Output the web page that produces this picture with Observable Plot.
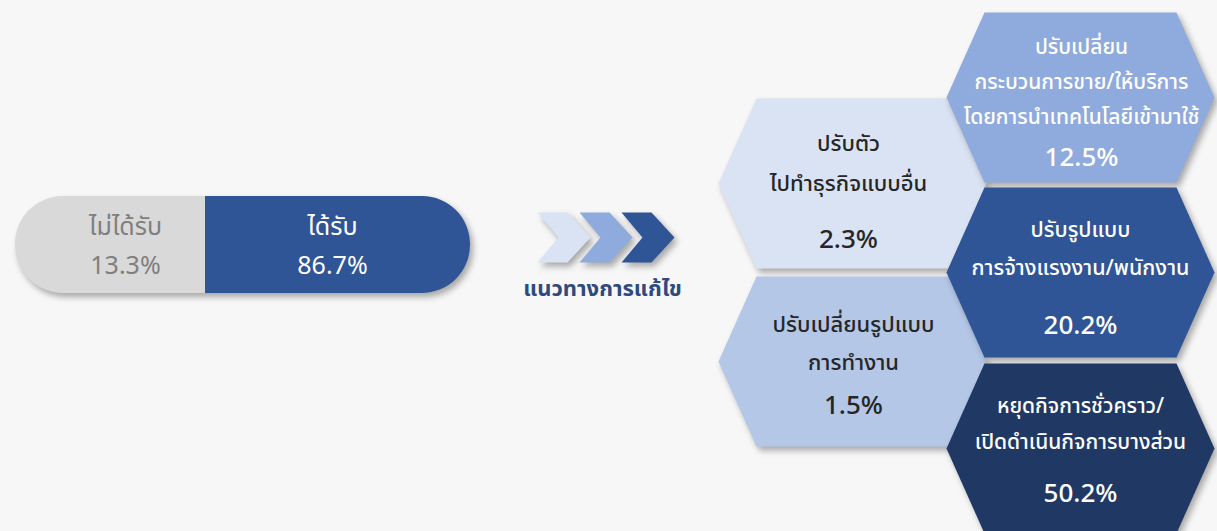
<!DOCTYPE html>
<html>
<head>
<meta charset="utf-8">
<script src="https://cdn.jsdelivr.net/npm/d3@7"></script>
<script src="https://cdn.jsdelivr.net/npm/@observablehq/plot@0.6"></script>
<style>
  html, body { margin: 0; padding: 0; background: #f7f7f7; }
  #chart svg { display: block; font-family: "Noto Sans Thai", Tahoma, "Leelawadee UI", "Noto Sans", sans-serif; }
  .shadow path, .shadow rect { filter: drop-shadow(3px 4px 3px rgba(0,0,0,0.32)); }
</style>
</head>
<body>
<div id="chart"></div>
<script>
// ---- data ----
const pillLabels = ["ไม่ได้รับ", "ได้รับ"];
const pillValues = [13.3, 86.7];
const arrowLabel = "แนวทางการแก้ไข";
const hexLabels = [
  ["ปรับตัว", "ไปทำธุรกิจแบบอื่น"],
  ["ปรับเปลี่ยนรูปแบบ", "การทำงาน"],
  ["ปรับเปลี่ยน", "กระบวนการขาย/ให้บริการ", "โดยการนำเทคโนโลยีเข้ามาใช้"],
  ["ปรับรูปแบบ", "การจ้างแรงงาน/พนักงาน"],
  ["หยุดกิจการชั่วคราว/", "เปิดดำเนินกิจการบางส่วน"]
];
const hexValues = [2.3, 1.5, 12.5, 20.2, 50.2];

// ---- layout & style (not data) ----
const W = 1217, H = 531;
const pillBox = {x1: 15, x2: 470, y1: 196, y2: 293, split: 205, r: 48};
const pillStyle = [
  {fill: "#d9d9d9", text: "#7f7f7f", cx: 125},
  {fill: "#2f5597", text: "#ffffff", cx: 332}
];
const chevronStarts = [537, 579, 621];
const chevronColors = ["#dae3f3", "#8faadc", "#2f5597"];
const hexLayout = [
  {cx: 852, cy: 183, fill: "#dae3f3", text: "#262626", tx: 848, ly: 143, gap: 40, vy: 239, ls: 22},
  {cx: 852, cy: 361, fill: "#b4c7e7", text: "#262626", tx: 853, ly: 324, gap: 38, vy: 405, ls: 22},
  {cx: 1080, cy: 97, fill: "#8faadc", text: "#ffffff", tx: 1081, ly: 47, gap: 35, vy: 157, ls: 21},
  {cx: 1080, cy: 272, fill: "#2f5597", text: "#ffffff", tx: 1080, ly: 230, gap: 38, vy: 325, ls: 21.5},
  {cx: 1080, cy: 448, fill: "#203864", text: "#ffffff", tx: 1080, ly: 406, gap: 36, vy: 493, ls: 21}
];
const HA = 134, HT = 96, HB = 85;

// ---- build tables ----
const pillSegs = pillLabels.map((label, i) => ({
  label, value: pillValues[i],
  x1: i === 0 ? pillBox.x1 : pillBox.split,
  x2: i === 0 ? pillBox.split : pillBox.x2,
  ...pillStyle[i]
}));

const chevPts = [];
chevronStarts.forEach((x0, i) => {
  const yT = 212, yM = 237, yB = 262;
  [[x0, yT], [x0 + 30, yT], [x0 + 53, yM], [x0 + 30, yB], [x0, yB], [x0 + 21, yM]]
    .forEach(([x, y]) => chevPts.push({id: i, x, y, fill: chevronColors[i]}));
});

const hexPts = [];
hexLayout.forEach((h, i) => {
  [[-HT, -HB], [HT, -HB], [HA, 0], [HT, HB], [-HT, HB], [-HA, 0]]
    .forEach(([dx, dy]) => hexPts.push({id: i, x: h.cx + dx, y: h.cy + dy, fill: h.fill}));
});

const hexText = [];
hexLabels.forEach((lines, i) => {
  const h = hexLayout[i];
  lines.forEach((t, j) => hexText.push({text: t, x: h.tx, y: h.ly + j * h.gap, color: h.text, size: h.ls}));
  hexText.push({text: hexValues[i].toFixed(1) + "%", x: h.tx, y: h.vy, color: h.text, size: 26});
});

const pillText = [];
pillSegs.forEach(s => {
  pillText.push({text: s.label, x: s.cx, y: 226, color: s.text});
  pillText.push({text: s.value.toFixed(1) + "%", x: s.cx, y: 265, color: s.text});
});

const chart = Plot.plot({
  width: W, height: H, margin: 0,
  x: {domain: [0, W], range: [0, W], axis: null},
  y: {domain: [0, H], range: [0, H], axis: null},
  color: {type: "identity"},
  style: {background: "transparent", overflow: "visible"},
  marks: [
    // pill base with shadow
    Plot.rect([pillBox], {x1: "x1", x2: "x2", y1: "y1", y2: "y2", fill: "#d9d9d9", rx: pillBox.r, className: "shadow"}),
    // right segment: rounded then squared left side
    Plot.rect([pillSegs[1]], {x1: "x1", x2: "x2", y1: () => pillBox.y1, y2: () => pillBox.y2, fill: "fill", rx: pillBox.r}),
    Plot.rect([pillSegs[1]], {x1: "x1", x2: d => d.x1 + pillBox.r + 5, y1: () => pillBox.y1, y2: () => pillBox.y2, fill: "fill"}),
    Plot.text(pillText, {x: "x", y: "y", text: "text", fill: "color", fontSize: 25}),
    // chevrons
    Plot.line(chevPts, {x: "x", y: "y", z: "id", fill: "fill", stroke: null, curve: "linear-closed", className: "shadow"}),
    Plot.text([arrowLabel], {x: () => 602, y: () => 288, text: d => d, fill: "#2e4a7e", fontSize: 22, fontWeight: "bold"}),
    // hexagons
    Plot.line(hexPts, {x: "x", y: "y", z: "id", fill: "fill", stroke: null, curve: "linear-closed", className: "shadow"}),
    Plot.text(hexText, {x: "x", y: "y", text: "text", fill: "color", fontSize: "size", fontWeight: 500})
  ]
});
document.getElementById("chart").appendChild(chart);
</script>
</body>
</html>
